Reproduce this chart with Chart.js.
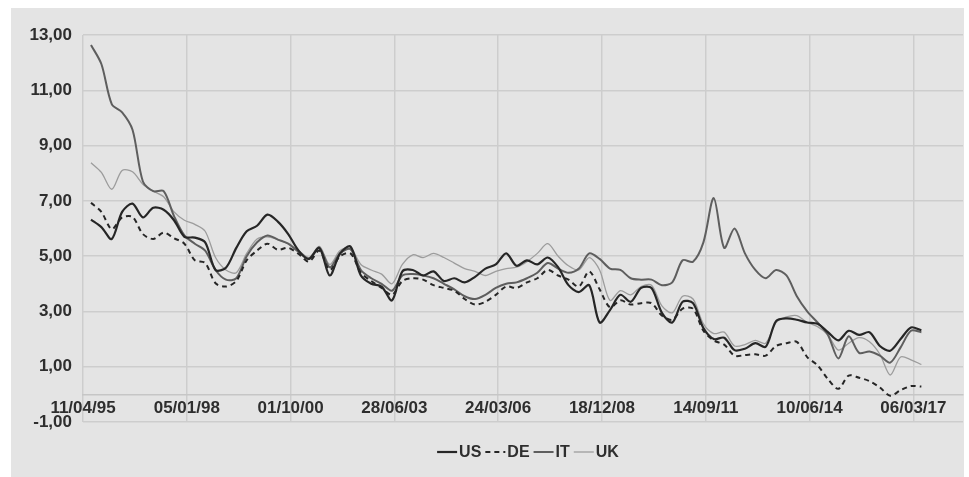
<!DOCTYPE html>
<html>
<head>
<meta charset="utf-8">
<title>Yields</title>
<script src="https://cdn.jsdelivr.net/npm/chart.js@4.4.1/dist/chart.umd.min.js"></script>
<style>
  html, body { margin: 0; padding: 0; background: #fff; }
  #wrap { width: 969px; height: 477px; position: relative; }
</style>
</head>
<body>
<div id="wrap"><canvas id="chart"></canvas></div>
<script>
// tick labels, one every 1000 days from 11/04/95
const tickLabels = ["11/04/95", "05/01/98", "01/10/00", "28/06/03", "24/03/06", "18/12/08", "14/09/11", "10/06/14", "06/03/17"];
const tickStep = 1000;

// samples every 100 days, first one 77 days after 11/04/95
const firstDay = 77;
const stepDays = 100;

const US = [6.32, 6.05, 5.62, 6.6, 6.9, 6.4, 6.75, 6.68, 6.3, 5.7,
  5.67, 5.5, 4.5, 4.58, 5.3, 5.9, 6.1, 6.5, 6.25, 5.8,
  5.2, 4.9, 5.3, 4.3, 5.1, 5.35, 4.3, 4.0, 3.9, 3.4,
  4.45, 4.5, 4.3, 4.45, 4.1, 4.2, 4.05, 4.25, 4.55, 4.7,
  5.1, 4.65, 4.85, 4.7, 4.95, 4.6, 3.95, 3.7, 3.95, 2.6,
  3.05, 3.6, 3.35, 3.85, 3.85, 2.95, 2.6, 3.35, 3.3, 2.4,
  2.0, 2.05, 1.6, 1.65, 1.85, 1.72, 2.65, 2.75, 2.7, 2.6,
  2.55, 2.25, 1.95, 2.3, 2.15, 2.25, 1.75, 1.58, 2.0, 2.42, 2.32];

const DE = [6.93, 6.6, 5.98, 6.4, 6.42, 5.8, 5.62, 5.85, 5.65, 5.45,
  4.85, 4.75, 4.02, 3.9, 4.1, 4.85, 5.2, 5.45, 5.23, 5.3,
  5.08, 4.8, 5.2, 4.5, 5.0, 5.1, 4.4, 4.1, 3.85, 3.6,
  4.1, 4.2, 4.15, 3.95, 3.85, 3.75, 3.45, 3.25, 3.35, 3.6,
  3.9, 3.85, 4.05, 4.2, 4.5, 4.3, 4.15, 3.9, 4.45, 3.8,
  3.15, 3.4, 3.25, 3.3, 3.3, 2.85, 2.7, 3.1, 3.1, 2.3,
  1.95, 1.8, 1.4, 1.42, 1.45, 1.4, 1.75, 1.85, 1.9, 1.35,
  1.05, 0.55, 0.2, 0.68, 0.6, 0.48, 0.25, -0.05, 0.15, 0.3, 0.28];

const IT = [12.64, 11.95, 10.5, 10.2, 9.57, 7.7, 7.35, 7.35, 6.45, 5.75,
  5.45, 5.2, 4.5, 4.15, 4.2, 5.0, 5.5, 5.75, 5.6, 5.45,
  5.15, 4.9, 5.3, 4.6, 5.1, 5.25, 4.5, 4.2, 4.0, 3.75,
  4.3, 4.35, 4.3, 4.2, 4.0, 3.8, 3.55, 3.45, 3.6, 3.85,
  4.0, 4.05, 4.2, 4.4, 4.75, 4.55, 4.4, 4.55, 5.1, 4.9,
  4.55, 4.5, 4.2, 4.15, 4.15, 3.95, 4.05, 4.85, 4.8, 5.5,
  7.1, 5.3, 6.0, 5.1, 4.5, 4.2, 4.5, 4.3, 3.55, 3.0,
  2.6, 2.15, 1.3, 2.1, 1.5, 1.55, 1.4, 1.15, 1.7, 2.3, 2.25];

const UK = [8.38, 8.03, 7.42, 8.1, 8.05, 7.6, 7.35, 7.15, 6.6, 6.3,
  6.15, 5.9, 4.95, 4.5, 4.4, 5.1, 5.62, 5.7, 5.6, 5.45,
  5.2, 4.95, 5.35, 4.7, 5.2, 5.3, 4.7, 4.5, 4.35, 4.0,
  4.7, 5.05, 4.95, 5.1, 4.95, 4.75, 4.55, 4.45, 4.3, 4.45,
  4.55, 4.6, 4.8, 5.1, 5.45, 5.0, 4.65, 4.5, 4.95, 4.5,
  3.4, 3.75, 3.6, 3.9, 3.95, 3.2, 2.95, 3.55, 3.45, 2.55,
  2.2, 2.25, 1.75, 1.8, 1.95, 1.85, 2.6, 2.8, 2.85, 2.6,
  2.45, 2.15, 1.6, 1.85, 2.05, 1.9, 1.45, 0.7, 1.35, 1.25, 1.08];

const days = US.map((v, i) => firstDay + i * stepDays);

const FONT = "'Liberation Sans', Arial, sans-serif";
const TEXT = "#2e2e2e";

// grey backdrop like the scanned figure
const backdrop = {
  id: "backdrop",
  beforeDraw(chart) {
    const ctx = chart.ctx;
    ctx.save();
    ctx.fillStyle = "#ffffff";
    ctx.fillRect(0, 0, chart.width, chart.height);
    ctx.fillStyle = "#e4e4e4";
    ctx.fillRect(11, 8, 953, chart.height - 8);
    ctx.restore();
  }
};

// compact legend: short line sample right before each name
const lineLegend = {
  id: "lineLegend",
  afterDraw(chart) {
    const ctx = chart.ctx;
    const sets = chart.data.datasets;
    ctx.save();
    ctx.font = "bold 16px " + FONT;
    ctx.textBaseline = "middle";
    const sample = 20, gapA = 2, gapB = 4;
    let total = 0;
    sets.forEach((ds) => {
      total += sample + gapA + ctx.measureText(ds.label).width + gapB;
    });
    let x = 530 - total / 2;
    const y = 452;
    sets.forEach((ds) => {
      ctx.strokeStyle = ds.borderColor;
      ctx.lineWidth = ds.borderWidth;
      ctx.setLineDash(ds.borderDash || []);
      ctx.beginPath();
      ctx.moveTo(x, y);
      ctx.lineTo(x + sample, y);
      ctx.stroke();
      ctx.setLineDash([]);
      x += sample + gapA;
      ctx.fillStyle = TEXT;
      ctx.fillText(ds.label, x, y + 1);
      x += ctx.measureText(ds.label).width + gapB;
    });
    ctx.restore();
  }
};

const ctx = document.getElementById("chart");
new Chart(ctx, {
  type: "line",
  data: {
    labels: days,
    datasets: [
      { label: "US", data: US, borderColor: "#262626", borderWidth: 2.2 },
      { label: "DE", data: DE, borderColor: "#262626", borderWidth: 2, borderDash: [5, 4] },
      { label: "IT", data: IT, borderColor: "#5e5e5e", borderWidth: 2 },
      { label: "UK", data: UK, borderColor: "#9c9c9c", borderWidth: 1.3 }
    ]
  },
  options: {
    responsive: true,
    maintainAspectRatio: false,
    animation: false,
    elements: {
      point: { radius: 0 },
      line: { tension: 0.3, fill: false }
    },
    layout: { padding: { left: 0, top: 35, right: 6, bottom: 55 } },
    plugins: {
      legend: { display: false },
      tooltip: { enabled: false }
    },
    scales: {
      x: {
        type: "linear",
        bounds: "data",
        position: { y: 0 },
        min: 0,
        max: 8478,
        // one tick per date label, every 1000 days
        afterBuildTicks: (scale) => {
          scale.ticks = tickLabels.map((t, i) => ({ value: i * tickStep }));
        },
        grid: { color: "#cdcdcd", lineWidth: 1.5, drawTicks: false },
        border: { display: true, color: "#c6c6c6", width: 1.5 },
        ticks: {
          autoSkip: false,
          maxRotation: 0,
          padding: 4,
          color: TEXT,
          font: { family: FONT, size: 17, weight: "bold" },
          callback: (v, i) => tickLabels[i]
        }
      },
      y: {
        min: -1,
        max: 13,
        afterFit: (scale) => { scale.width = 83; },
        grid: { color: "#cdcdcd", lineWidth: 1.5, drawTicks: false },
        border: { display: false },
        ticks: {
          stepSize: 2,
          padding: 11,
          color: TEXT,
          font: { family: FONT, size: 17, weight: "bold" },
          callback: (v) => v.toFixed(2).replace(".", ",")
        }
      }
    }
  },
  plugins: [backdrop, lineLegend]
});
</script>
</body>
</html>
